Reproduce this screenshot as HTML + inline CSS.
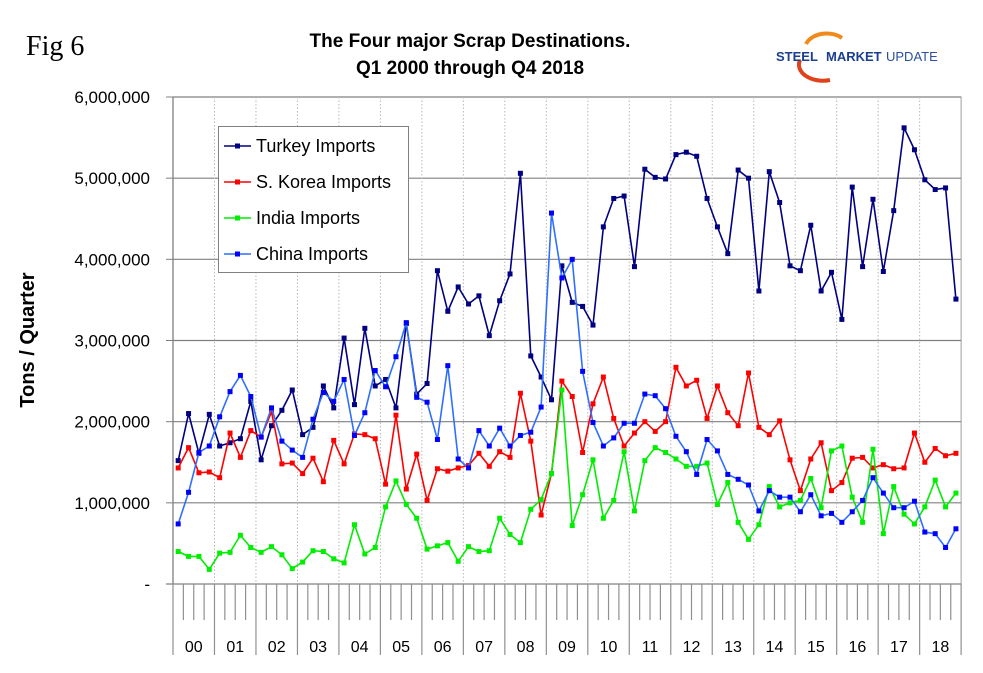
<!DOCTYPE html>
<html><head><meta charset="utf-8"><style>
html,body{margin:0;padding:0;background:#fff;}
svg{display:block;font-family:"Liberation Sans",sans-serif;}
</style></head><body>
<svg id="chart" width="983" height="673" viewBox="0 0 983 673">
<text x="26" y="55" font-family="Liberation Serif,serif" font-size="28">Fig 6</text>
<text x="470" y="47" text-anchor="middle" font-size="19" font-weight="bold">The Four major Scrap Destinations.</text>
<text x="470" y="74" text-anchor="middle" font-size="19" font-weight="bold">Q1 2000 through Q4 2018</text>
<g>
<path d="M806,44 A22,16 0 0 1 842,38" stroke="#f08a1c" stroke-width="4" fill="none"/>
<path d="M800,60 A24,16 0 0 0 830,80" stroke="#e0401a" stroke-width="4" fill="none"/>
<text x="776" y="61" font-size="13" font-weight="bold" fill="#1b3f8f">STEEL</text>
<text x="826" y="61" font-size="13" font-weight="bold" fill="#1b3f8f">MARKET</text>
<text x="886" y="61" font-size="13" fill="#2a4f9f">UPDATE</text>
</g>
<text transform="translate(34,340) rotate(-90)" text-anchor="middle" font-size="20" font-weight="bold">Tons / Quarter</text>
<g id="grid"></g>
<g id="axes"></g>
<g id="series"></g>
<g id="legend">
<rect x="218.5" y="126.5" width="190" height="146" fill="#fff" stroke="#808080"/>
</g>
</svg>
<script>
const years = ["00","01","02","03","04","05","06","07","08","09","10","11","12","13","14","15","16","17","18"];
const yTicks = [0,1,2,3,4,5,6];
const yTickLabels = ["-","1,000,000","2,000,000","3,000,000","4,000,000","5,000,000","6,000,000"];
const seriesNames = ["Turkey Imports","S. Korea Imports","India Imports","China Imports"];
const turkey = [1.52,2.10,1.61,2.09, 1.70,1.74,1.79,2.25, 1.53,1.95,2.14,2.39, 1.84,1.93,2.44,2.17, 3.03,2.21,3.15,2.44, 2.52,2.17,3.21,2.34, 2.47,3.86,3.36,3.66, 3.45,3.55,3.06,3.49, 3.82,5.06,2.81,2.55, 2.27,3.92,3.47,3.42, 3.19,4.40,4.75,4.78, 3.91,5.11,5.01,4.99, 5.29,5.32,5.27,4.75, 4.40,4.07,5.10,5.00, 3.61,5.08,4.70,3.92, 3.86,4.42,3.61,3.84, 3.26,4.89,3.91,4.74, 3.85,4.60,5.62,5.35, 4.98,4.86,4.88,3.51];
const korea = [1.43,1.68,1.37,1.38, 1.31,1.86,1.56,1.89, 1.81,2.12,1.48,1.49, 1.36,1.55,1.26,1.77, 1.48,1.85,1.84,1.79, 1.23,2.08,1.17,1.60, 1.03,1.42,1.39,1.43, 1.46,1.61,1.45,1.63, 1.56,2.35,1.76,0.85, 1.36,2.50,2.31,1.62, 2.22,2.55,2.04,1.70, 1.86,2.00,1.88,2.00, 2.67,2.44,2.51,2.04, 2.44,2.11,1.95,2.60, 1.93,1.84,2.01,1.53, 1.15,1.54,1.74,1.15, 1.25,1.55,1.56,1.43, 1.47,1.42,1.43,1.86, 1.50,1.67,1.58,1.61];
const india = [0.40,0.34,0.34,0.18, 0.38,0.39,0.60,0.45, 0.39,0.46,0.36,0.19, 0.27,0.41,0.40,0.31, 0.26,0.73,0.37,0.45, 0.95,1.27,0.98,0.81, 0.43,0.47,0.51,0.28, 0.46,0.40,0.41,0.81, 0.61,0.51,0.92,1.04, 1.36,2.39,0.72,1.10, 1.53,0.81,1.03,1.63, 0.90,1.52,1.68,1.62, 1.54,1.45,1.45,1.49, 0.98,1.25,0.76,0.55, 0.73,1.20,0.95,1.00, 1.03,1.30,0.94,1.64, 1.70,1.07,0.76,1.66, 0.62,1.20,0.86,0.74, 0.95,1.28,0.95,1.12];
const china = [0.74,1.13,1.62,1.70, 2.06,2.37,2.57,2.31, 1.81,2.17,1.76,1.65, 1.56,2.03,2.36,2.25, 2.52,1.83,2.11,2.63, 2.43,2.80,3.22,2.30, 2.24,1.78,2.69,1.54, 1.43,1.89,1.70,1.92, 1.70,1.83,1.87,2.18, 4.57,3.77,4.00,2.62, 1.99,1.70,1.80,1.98, 1.98,2.34,2.32,2.16, 1.82,1.63,1.35,1.78, 1.64,1.35,1.29,1.22, 0.90,1.15,1.07,1.07, 0.89,1.10,0.84,0.87, 0.76,0.89,1.03,1.31, 1.12,0.94,0.94,1.02, 0.64,0.62,0.45,0.68];
const seriesData = [turkey, korea, india, china];
const lineColors = ["#000080","#ff0000","#00ee00","#2f6fff"];
const markerColors = ["#000080","#ff0000","#00ee00","#0000ff"];

const NS="http://www.w3.org/2000/svg";
const X0=173, QW=10.37, Y0=584, YT=97, YMAX=6;
const nQ=years.length*4, X1=X0+nQ*QW;
function xScale(i){return X0+(i+0.5)*QW;}
function yScale(v){return Y0-(v/YMAX)*(Y0-YT);}
function mk(tag,attrs,parent){const e=document.createElementNS(NS,tag);for(const k in attrs)e.setAttribute(k,attrs[k]);parent.appendChild(e);return e;}
const grid=document.getElementById('grid'), axes=document.getElementById('axes'), ser=document.getElementById('series'), leg=document.getElementById('legend');
mk('rect',{x:X0,y:YT,width:X1-X0,height:Y0-YT,fill:'#fff',stroke:'#a0a0a0','stroke-width':1},grid);
yTicks.forEach((t,k)=>{
  const y=yScale(t);
  if(t>0){const l=mk('line',{x1:X0,x2:X1,y1:y,y2:y,stroke:'#808080','stroke-width':1.2},grid);
    
    }
  mk('line',{x1:X0-7,x2:X0,y1:y,y2:y,stroke:'#808080'},axes);
  const tx=mk('text',{x:150,y:y+6,'text-anchor':'end','font-size':17},axes);
  tx.textContent=yTickLabels[k];
  
  
});
for(let yr=1;yr<years.length;yr++){
  const x=X0+yr*4*QW;
  mk('line',{x1:x,x2:x,y1:YT,y2:Y0,stroke:'#b8b8b8','stroke-dasharray':'1.5,2'},grid);
}
mk('line',{x1:X0,x2:X0,y1:YT,y2:Y0,stroke:'#808080','stroke-width':1.3},axes);
mk('line',{x1:X0-7,x2:X1,y1:Y0,y2:Y0,stroke:'#808080','stroke-width':1.3},axes);
for(let q=0;q<=nQ;q++){
  const x=X0+q*QW;
  const yb = q%4===0?655:620;
  mk('line',{x1:x,x2:x,y1:Y0,y2:yb,stroke:'#909090','stroke-width':1.2},axes);
}
years.forEach((yl,k)=>{
  const t=mk('text',{x:X0+(k*4+2)*QW,y:652,'text-anchor':'middle','font-size':16},axes);
  t.textContent=yl;
  
  
});
seriesData.forEach((arr,s)=>{
  const g=mk('g',{},ser);
  
  
  const pts=arr.map((v,i)=>xScale(i).toFixed(1)+','+yScale(v).toFixed(1)).join(' ');
  mk('polyline',{points:pts,fill:'none',stroke:lineColors[s],'stroke-width':1.6},g);
  arr.forEach((v,i)=>{
    const r=mk('rect',{x:xScale(i)-2.5,y:yScale(v)-2.5,width:5,height:5,fill:markerColors[s]},g);
    
    
  });
});
seriesNames.forEach((n,s)=>{
  const y=146+s*36;
  const g=mk('g',{},leg);
  
  
  mk('line',{x1:224,x2:251,y1:y,y2:y,stroke:lineColors[s],'stroke-width':1.6},g);
  mk('rect',{x:235,y:y-2.5,width:5,height:5,fill:markerColors[s]},g);
  const t=mk('text',{x:256,y:y+6,'font-size':18},g);
  t.textContent=n;
});
</script>
</body></html>
